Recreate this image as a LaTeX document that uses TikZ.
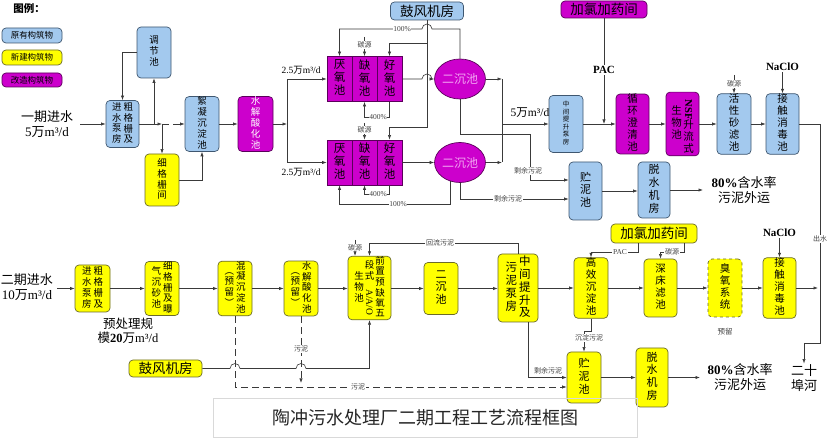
\documentclass[tikz,border=0pt]{standalone}
\usepackage{fontspec}
\usepackage{graphicx}
\setmainfont{Noto Sans CJK SC}
\newfontfamily\lat{Liberation Serif}
\usetikzlibrary{arrows.meta,shapes.geometric}
\definecolor{bfill}{HTML}{A3C9EE}
\definecolor{bdraw}{HTML}{3F5770}
\definecolor{yfill}{HTML}{FFFF00}
\definecolor{ydraw}{HTML}{6B6B2A}
\definecolor{mfill}{HTML}{CC00CC}
\definecolor{mdraw}{HTML}{5A005A}
\definecolor{lnc}{HTML}{3A3A3A}
\definecolor{labc}{HTML}{404040}
\definecolor{epink}{HTML}{F2A6F2}
\newcommand\vt[1]{\begin{tabular}{@{}c@{}}#1\end{tabular}}
\newcommand\mcu{{\lat m³/d}}
\newcommand\myfs[2]{\fontsize{#1}{#2}\selectfont}
\begin{document}
\begin{tikzpicture}[x=1pt,y=-1pt,
 cline/.style={draw=lnc,line width=0.6pt},
 arr/.style={cline,-{Latex[length=4.5pt,width=3.2pt]}},
 dsh/.style={dash pattern=on 7pt off 4pt},
 base/.style={rounded corners=4pt,line width=0.7pt,inner sep=0pt,align=center},
 bbox/.style={base,fill=bfill,draw=bdraw},
 ybox/.style={base,fill=yfill,draw=ydraw},
 mbox/.style={base,fill=mfill,draw=mdraw},
 wh/.style 2 args={minimum width=#1pt,minimum height=#2pt},
 cell/.style={fill=mfill,draw=mdraw,line width=0.7pt,inner sep=0pt,minimum width=25pt,minimum height=45pt,align=center,font=\myfs{11.5}{11.5}},
 ell/.style={ellipse,fill=mfill,draw=mdraw,line width=0.7pt,minimum width=46pt,minimum height=40pt,inner sep=0pt,text=epink,font=\myfs{12}{12}},
 lab/.style={fill=white,inner sep=0.6pt,text=labc,font=\myfs{7}{7}},
 f1/.style={font=\myfs{9.5}{10}},
 f2/.style={font=\myfs{10.5}{11}},
 f3/.style={font=\myfs{11}{12}},
 big/.style={font=\myfs{13.5}{14}},
 txt/.style={align=center,inner sep=1pt,font=\myfs{13}{14.5}},
]
\fill[white] (0,0) rectangle (828,438);
\useasboundingbox (0,0) rectangle (828,438);

% legend
\node[font=\bfseries\myfs{10.5}{11}] (lgt) at (29,9) {图例：};
\node[bbox,wh={60}{15},font=\myfs{8.5}{9}] (L1) at (32,35.5) {原有构筑物};
\node[ybox,wh={60}{15},font=\myfs{8.5}{9}] (L2) at (32,57.5) {新建构筑物};
\node[mbox,wh={60}{14},font=\myfs{8.5}{9}] (L3) at (32,80) {改造构筑物};

% ---------- phase 1 ----------
\node[bbox,wh={34}{51},f1] (tiao) at (154,52.5) {\vt{调\\节\\池}};
\node[bbox,wh={33}{47},f1] (cu1) at (122.5,124) {\vt{进\\水\\泵\\房}\hspace{2pt}\vt{粗\\格\\栅\\及}};
\node[ybox,wh={34}{52},f1] (xi1) at (162,180) {\vt{细\\格\\栅\\间}};
\node[bbox,wh={34}{52},f1] (xu1) at (202,124) {\vt{絮\\凝\\沉\\淀\\池}};
\node[mbox,wh={35}{52},f1,text=white] (sj1) at (255.5,124) {\vt{水\\解\\酸\\化\\池}};

\node[cell] (a1) at (339.5,79) {\vt{厌\\氧\\池}};
\node[cell] (b1) at (364.5,79) {\vt{缺\\氧\\池}};
\node[cell] (c1) at (389.5,79) {\vt{好\\氧\\池}};
\node[cell] (a2) at (339.5,162.5) {\vt{厌\\氧\\池}};
\node[cell] (b2) at (364.5,162.5) {\vt{缺\\氧\\池}};
\node[cell] (c2) at (389.5,162.5) {\vt{好\\氧\\池}};
\node[ell] (E1) at (460,79) {二沉池};
\node[ell] (E2) at (460,162.5) {二沉池};
\node[bbox,wh={73}{18},big] (bl1) at (427,11) {鼓风机房};
\node[mbox,wh={86}{17},big] (jl1) at (604,9.5) {加氯加药间};

\node[bbox,wh={34}{57},font=\myfs{6.5}{7.2}] (zj1) at (566,124) {\vt{中\\间\\提\\升\\泵\\房}};
\node[mbox,wh={33}{58},f2] (xh1) at (632.5,124) {\vt{循\\环\\澄\\清\\池}};
\node[mbox,wh={33}{58},f2] (nsf1) at (682.5,124) {\vt{生\\物\\池}\hspace{1.5pt}\vt{\rotatebox{-90}{\lat\bfseries NSF}\\升\\流\\式}};
\node[bbox,wh={34}{58},f2] (hx1) at (734,124) {\vt{活\\性\\砂\\滤\\池}};
\node[bbox,wh={33}{58},f2] (jc1) at (782.5,124) {\vt{接\\触\\消\\毒\\池}};
\node[bbox,wh={33}{58},f3] (zn1) at (585.5,191) {\vt{贮\\泥\\池}};
\node[bbox,wh={32}{56},f3] (ts1) at (654,190) {\vt{脱\\水\\机\\房}};

\node[txt] (in1) at (47,124) {一期进水\\{\lat 5}万\mcu};
\node[txt] (out1) at (744,190) {{\lat\bfseries 80\%}含水率\\污泥外运};
\node[txt] (river) at (804,378) {二十\\埠河};

% phase 1 connectors
\coordinate (s1) at (80,124);
\draw[arr] (s1) -- (cu1.west);
\draw[arr] (cu1.east -| tiao.south) -- (tiao.south);
\draw[arr] (tiao.west) -| (cu1.north);
\draw[arr] (cu1.east) -- (cu1.east -| xi1.north);
\draw[arr] (cu1.east -| xi1.north) -- (xi1.north);
\draw[arr,dsh] (xu1.west -| xi1.north) -- (xu1.west);
\draw[arr] (xi1.east) -| (xu1.south);
\draw[arr] (xu1.east) -- (sj1.west);
\coordinate (j1) at (287,124);
\draw[arr] (sj1.east) -- (j1);
\draw[arr] (j1) |- (a1.west);
\draw[arr] (j1) |- (a2.west);
\node[font=\myfs{9.5}{10},inner sep=0.5pt] (q1) at (301,70) {{\lat 2.5}万\mcu};
\node[font=\myfs{9.5}{10},inner sep=0.5pt] (q2) at (301,172) {{\lat 2.5}万\mcu};

% blower 1
\draw[arr] (bl1.south) -- (427,127) -| (c2.north);
\draw[arr] (427,43) -| (c1.north);
% aerobic -> clarifier
\draw[arr] (c1.east) -- (422,79) arc[start angle=180,end angle=0,radius=5pt] -- (E1.west);
\draw[arr] (c2.east) -- (E2.west);
% 100% returns
\draw[arr] (E1.north) -- (E1.north |- 0,29) -- (432,29) arc[start angle=0,end angle=180,radius=5pt] -| (a1.north);
\node[lab,font=\lat\myfs{7.5}{7.5}] (r1) at (402,29) {100\%};
\draw[arr] (E2.243) -- (E2.243 |- 0,204) -| (a2.south);
\node[lab,font=\lat\myfs{7.5}{7.5}] (r2) at (398,204) {100\%};
% 400%
\draw[arr] (c1.south) -- (c1.south |- 0,117) -| (b1.south);
\node[lab,font=\lat\myfs{7.5}{7.5}] (r3) at (378,117) {400\%};
\draw[arr] (c2.south) -- (c2.south |- 0,194) -| (b2.south);
\node[lab,font=\lat\myfs{7.5}{7.5}] (r4) at (378,194) {400\%};
% carbon source
\node[lab] (t1) at (364.5,45) {碳源};
\draw[cline] (364.5,37) -- (t1.north);
\draw[arr] (t1.south) -- (b1.north);
\node[lab] (t2) at (364.5,130) {碳源};
\draw[cline] (364.5,123) -- (t2.north);
\draw[arr] (t2.south) -- (b2.north);
% to intermediate pump
\coordinate (j2) at (502,124);
\draw[arr] (E1.east) -- (E1.east -| j2);
\draw[arr] (E2.east) -- (E2.east -| j2);
\draw[cline] (E1.east -| j2) -- (E2.east -| j2);
\draw[arr] (j2) -- (zj1.west);
\node[font=\myfs{11.5}{12},inner sep=0.5pt] (q3) at (530,113) {{\lat 5}万\mcu};
% surplus sludge
\draw[arr] (E1.south) |- (530,134) |- (zn1.west |- 0,180);
\node[lab] (w1) at (528,171) {剩余污泥};
\draw[arr] (E2.south) |- (zn1.west |- 0,199);
\node[lab] (w2) at (508,199) {剩余污泥};
% advanced line
\draw[arr] (zj1.east) -- (xh1.west);
\draw[arr] (jl1.south) -- (jl1.south |- 0,124);
\node[fill=white,inner sep=1pt,font=\lat\bfseries\myfs{11}{11}] (pac1) at (604,70) {PAC};
\draw[arr] (xh1.east) -- (nsf1.west);
\draw[arr] (nsf1.east) -- (hx1.west);
\draw[arr] (hx1.east) -- (jc1.west);
\node[lab] (t4) at (734,84) {碳源};
\draw[cline] (734,75) -- (t4.north);
\draw[arr] (t4.south) -- (hx1.north);
\node[font=\lat\bfseries\myfs{11}{11},inner sep=1pt] (na1) at (782.5,67) {NaClO};
\draw[arr] (na1.south) -- (jc1.north);
\coordinate (k1) at (820,124);
\coordinate (k2) at (820,343);
\coordinate (k3) at (804,343);
\draw[cline] (jc1.east) -- (k1) -- (k2) -- (k3);
\draw[arr] (k3) -- (river.north);
\node[lab] (cs) at (820,239) {出水};
\draw[arr] (zn1.east) -- (zn1.east -| ts1.west);
\draw[arr] (ts1.east) -- (703,190);

% ---------- phase 2 ----------
\node[ybox,wh={35}{47},f1] (cu2) at (92.5,288.5) {\vt{进\\水\\泵\\房}\hspace{2pt}\vt{粗\\格\\栅\\及}};
\node[ybox,wh={34}{51},f1] (xi2) at (162,288.5) {\vt{气\\沉\\砂\\池}\hspace{2pt}\vt{细\\格\\栅\\及\\曝}};
\node[ybox,wh={34}{51},f1] (hn2) at (235,288.5) {\vt{︵\\预\\留\\︶}\hspace{2pt}\vt{混\\凝\\沉\\淀\\池}};
\node[ybox,wh={34}{51},f1] (sj2) at (301,288.5) {\vt{︵\\预\\留\\︶}\hspace{2pt}\vt{水\\解\\酸\\化\\池}};
\node[ybox,wh={43}{60},font=\myfs{9.5}{9.6}] (aao) at (369.5,288) {\vt{生\\物\\池}\hspace{1pt}\vt{段\\式\\\rotatebox{-90}{\lat A/A/O}}\hspace{1pt}\vt{前\\置\\预\\缺\\氧\\五}};
\node[ybox,wh={34}{52},f3] (ec2) at (441,288.5) {\vt{二\\沉\\池}};
\node[ybox,wh={40}{68},font=\myfs{11.5}{11.5}] (zj2) at (518,288) {\vt{污\\泥\\泵\\房}\hspace{2pt}\vt{中\\间\\提\\升\\及}};
\node[ybox,wh={34}{58},f2] (gx2) at (591,288) {\vt{高\\效\\沉\\淀\\池}};
\node[ybox,wh={33}{58},f2] (sc2) at (660.5,288) {\vt{深\\床\\滤\\池}};
\node[ybox,wh={34}{58},f2,dashed] (cy2) at (725,288) {\vt{臭\\氧\\系\\统}};
\node[ybox,wh={33}{58},f2] (jc2) at (779.5,288) {\vt{接\\触\\消\\毒\\池}};
\node[ybox,wh={86}{19},big] (jl2) at (654,233.5) {加氯加药间};
\node[ybox,wh={34}{51},f3] (zn2) at (584,377.5) {\vt{贮\\泥\\池}};
\node[ybox,wh={32}{59},f3] (ts2) at (652,377.5) {\vt{脱\\水\\机\\房}};
\node[ybox,wh={73}{17},big] (bl2) at (165.5,368.5) {鼓风机房};

\node[txt] (in2) at (27,287) {二期进水\\{\lat 10}万\mcu};
\node[txt,font=\myfs{12.5}{14}] (pre) at (128,331) {预处理规\\模{\lat\bfseries 20}万\mcu};
\node[txt] (out2) at (740,377) {{\lat\bfseries 80\%}含水率\\污泥外运};
\node[lab,font=\myfs{7.5}{7.5}] (yl) at (725,332) {预留};

\coordinate (s2) at (57,288.5);
\draw[arr] (s2) -- (cu2.west);
\draw[arr] (cu2.east) -- (xi2.west);
\draw[arr] (xi2.east) -- (hn2.west);
\draw[arr] (hn2.east) -- (sj2.west);
\draw[arr] (sj2.east) -- (sj2.east -| aao.west);
\draw[arr] (aao.east |- ec2.west) -- (ec2.west);
\draw[arr] (ec2.east) -- (ec2.east -| zj2.west);
\draw[arr] (zj2.east |- gx2.west) -- (gx2.west);
\draw[arr] (gx2.east) -- (sc2.west);
\draw[arr] (sc2.east) -- (cy2.west);
\draw[arr] (cy2.east) -- (jc2.west);
\coordinate (k4) at (818,288);
\draw[arr] (jc2.east) -- (k4);

% carbon + return sludge to AAO
\node[lab] (t5) at (355,248) {碳源};
\draw[cline] (355,240) -- (t5.north);
\draw[arr] (t5.south) -- (t5.south |- aao.north);
\draw[arr] (zj2.north) |- (aao.north |- 0,243) -- (aao.north);
\node[lab] (hl) at (440,243) {回流污泥};
% blower 2
\draw[arr] (bl2.east) -- (230,368.5) arc[start angle=180,end angle=0,radius=5pt] -- (296,368.5) arc[start angle=180,end angle=0,radius=5pt] -| (aao.south);
% sludge dashed
\draw[arr,dsh] (hn2.south) |- (zn2.west |- 0,387);
\node[lab] (w3) at (358,387) {污泥};
\draw[arr,dsh] (sj2.south) -- (sj2.south |- 0,383);
\node[lab] (w4) at (301,349) {污泥};
% surplus / settled sludge
\draw[arr] ([xshift=10pt]zj2.south) |- (zn2.west);
\node[lab] (w5) at (548,371) {剩余污泥};
\draw[arr] (gx2.south) -- (gx2.south |- 0,331) -| (zn2.north);
\node[lab] (w6) at (589,338) {沉淀污泥};
% chemicals
\draw[arr] ([xshift=-16pt]jl2.south) |- (gx2.north |- 0,252) -- (gx2.north);
\node[lab,font=\lat\myfs{7.5}{7.5}] (pac2) at (620,252) {PAC};
\draw[arr] ([xshift=30pt]jl2.south) |- (sc2.north |- 0,252) -- (sc2.north);
\node[lab] (t6) at (672,252) {碳源};
\node[font=\lat\bfseries\myfs{11}{11},inner sep=1pt] (na2) at (779.5,233) {NaClO};
\draw[arr] (na2.south) -- (jc2.north);
\draw[arr] (zn2.east) -- (ts2.west);
\draw[arr] (ts2.east) -- (700,377.5);

% title
\node[draw=black!15,line width=0.6pt,minimum width=424pt,minimum height=39pt,inner sep=0pt,font=\myfs{18}{18},text=black!85] (title) at (425,417.5) {陶冲污水处理厂二期工程工艺流程框图};
\end{tikzpicture}
\end{document}
